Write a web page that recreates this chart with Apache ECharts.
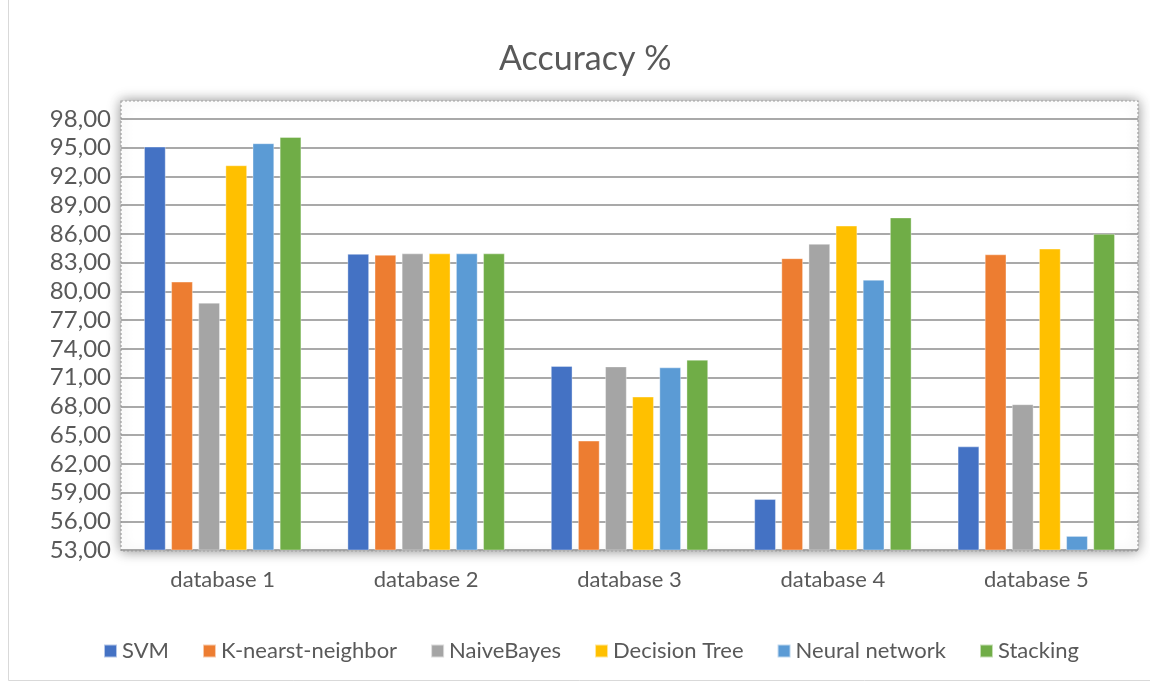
<!DOCTYPE html>
<html>
<head>
<meta charset="utf-8">
<script src="https://cdn.jsdelivr.net/npm/echarts@6/dist/echarts.min.js"></script>
<style>
  html, body { margin: 0; padding: 0; background: #ffffff; }
  #chart { width: 1150px; height: 682px; }
</style>
</head>
<body>
<div id="chart"></div>
<script>
// Accuracy (%) of each classifier on five databases
const categories = ['database 1', 'database 2', 'database 3', 'database 4', 'database 5'];
const seriesNames = ['SVM', 'K-nearst-neighbor', 'NaiveBayes', 'Decision Tree', 'Neural network', 'Stacking'];
const svm        = [95.10, 83.90, 72.20, 58.30, 63.80];
const knn        = [81.00, 83.80, 64.40, 83.45, 83.85];
const naiveBayes = [78.80, 83.95, 72.15, 84.95, 68.20];
const decTree    = [93.15, 83.95, 69.00, 86.85, 84.45];
const neuralNet  = [95.45, 83.95, 72.05, 81.20, 54.45];
const stacking   = [96.10, 83.95, 72.85, 87.70, 86.00];
const yTicks = { min: 53, max: 98, step: 3 };

const values = [svm, knn, naiveBayes, decTree, neuralNet, stacking];
const colors = ['#4472C4', '#ED7D31', '#A5A5A5', '#FFC000', '#5B9BD5', '#70AD47'];
const font = 'Lato, "Open Sans", sans-serif';
const textColor = '#595959';

const chart = echarts.init(document.getElementById('chart'), null, { renderer: 'canvas' });

const gridBox = { left: 121, right: 12, top: 119, bottom: 132 };

chart.setOption({
  backgroundColor: '#ffffff',
  animation: false,
  title: {
    text: 'Accuracy %',
    left: 494,
    top: 37,
    textStyle: { fontFamily: font, fontSize: 34, fontWeight: 'normal', color: textColor }
  },
  legend: {
    data: seriesNames,
    top: 635,
    left: 98,
    icon: 'rect',
    itemWidth: 13,
    itemHeight: 13,
    itemGap: 33,
    textStyle: { fontFamily: font, fontSize: 22, color: textColor }
  },
  grid: gridBox,
  // plot-area frame: dotted outline with a soft shadow
  graphic: [
    {
      type: 'rect',
      z: -10,
      silent: true,
      shape: { x: 121, y: 101, width: 1017, height: 450 },
      style: {
        fill: '#ffffff',
        stroke: '#a0a0a0',
        lineWidth: 1.2,
        lineDash: [2, 2],
        shadowBlur: 12,
        shadowColor: 'rgba(0,0,0,0.45)'
      }
    },
    {
      type: 'polyline',
      z: -20,
      silent: true,
      shape: { points: [[8.5, 0], [8.5, 680.5], [1150, 680.5]] },
      style: { stroke: '#d9d9d9', lineWidth: 1, fill: null }
    }
  ],
  xAxis: {
    type: 'category',
    data: categories,
    boundaryGap: true,
    axisLine: { show: false },
    axisTick: { show: false },
    axisLabel: { margin: 19, fontFamily: font, fontSize: 22, color: textColor }
  },
  yAxis: {
    type: 'value',
    min: yTicks.min,
    max: yTicks.max,
    interval: yTicks.step,
    axisLine: { show: false },
    axisTick: { show: false },
    axisLabel: {
      margin: 10,
      fontFamily: font,
      fontSize: 24,
      color: textColor,
      formatter: v => v.toFixed(2).replace('.', ',')
    },
    splitLine: { lineStyle: { color: '#8c8c8c', width: 1.6 } }
  },
  series: seriesNames.map((name, i) => ({
    name: name,
    type: 'bar',
    data: values[i],
    barGap: '27%',
    barCategoryGap: '22.8%',
    itemStyle: { color: colors[i], borderColor: 'rgba(255,255,255,0.6)', borderWidth: 0.6 }
  }))
});
</script>
</body>
</html>
